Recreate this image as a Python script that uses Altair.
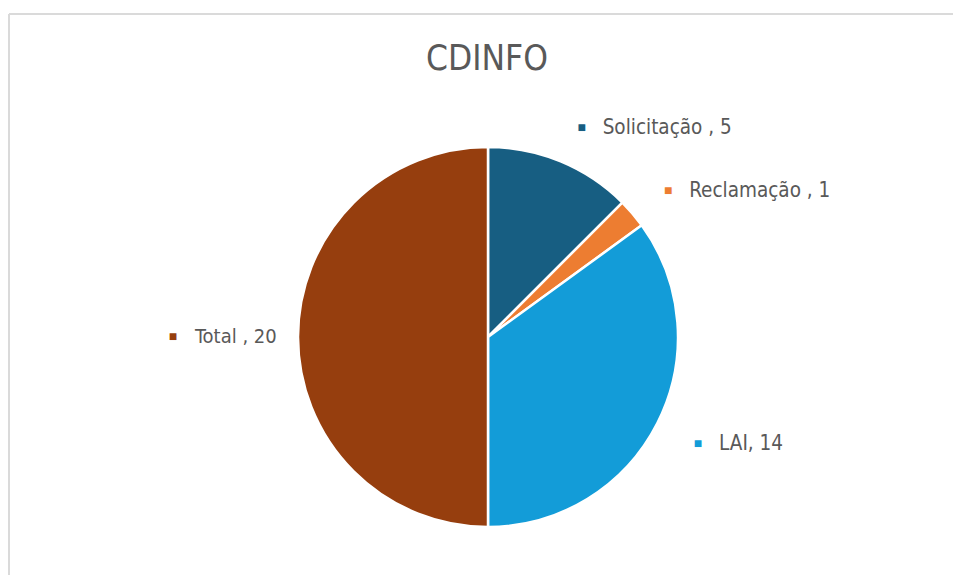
import altair as alt
import pandas as pd

categories = ["Solicitação", "Reclamação", "LAI", "Total"]
values = [5, 1, 14, 20]
label_texts = ["Solicitação , 5", "Reclamação , 1", "LAI, 14", "Total , 20"]
sides = ["right", "right", "right", "left"]
colors = ["#175E82", "#ED7D31", "#139CD8", "#963E0E"]
title_text = "CDINFO"

df = pd.DataFrame({
    "cat": categories,
    "value": values,
    "label": label_texts,
    "side": sides,
    "idx": list(range(len(categories))),
})

W, H = 945, 567
CX, CY = 479, 329
FONT = "Liberation Sans Narrow, Arial Narrow, DejaVu Sans Condensed, Roboto, sans-serif"

color = alt.Color("cat:N", scale=alt.Scale(domain=categories, range=colors), legend=None)

base = alt.Chart(df).encode(
    theta=alt.Theta("value:Q", stack=True),
    order=alt.Order("idx:Q"),
    x=alt.value(CX),
    y=alt.value(CY),
)

arcs = base.mark_arc(outerRadius=190, stroke="white", strokeWidth=2.5).encode(color=color)

# right-side labels
right_marker = base.transform_calculate(
    m="datum.side == 'right' ? '■' : ''"
).mark_text(radius=229, dx=6, dy=3, fontSize=14, align="center", baseline="middle").encode(
    text="m:N", color=color
)
right_text = base.transform_calculate(
    t="datum.side == 'right' ? datum.label : ''"
).mark_text(radius=229, dx=27, dy=3, fontSize=20.5, align="left", baseline="middle",
            font=FONT, color="#595959").encode(text="t:N")

# left-side label
left_marker = base.transform_calculate(
    m="datum.side == 'left' ? '■' : ''"
).mark_text(radius=315, fontSize=14, align="center", baseline="middle").encode(
    text="m:N", color=color
)
left_text = base.transform_calculate(
    t="datum.side == 'left' ? datum.label : ''"
).mark_text(radius=315, dx=22, fontSize=20, align="left", baseline="middle",
            font=FONT, color="#595959").encode(text="t:N")

one = alt.Chart(pd.DataFrame({"t": [title_text]}))
title = one.mark_text(fontSize=35, font=FONT, color="#595959", align="center",
                      baseline="alphabetic").encode(
    text="t:N", x=alt.value(CX - 1), y=alt.value(62)
)
border_top = one.mark_rule(color="#DADADA", strokeWidth=2).encode(
    x=alt.value(0), x2=alt.value(W), y=alt.value(6)
)
border_left = one.mark_rule(color="#DADADA", strokeWidth=2).encode(
    x=alt.value(0), y=alt.value(6), y2=alt.value(H)
)

chart = alt.layer(
    border_top, border_left, arcs, right_marker, right_text, left_marker, left_text, title
).properties(
    width=W, height=H,
    autosize=alt.AutoSizeParams(type="fit", contains="padding"),
    padding=0,
).configure_view(stroke=None)

chart.save("out.html", embed_options={"renderer": "svg", "actions": False})
